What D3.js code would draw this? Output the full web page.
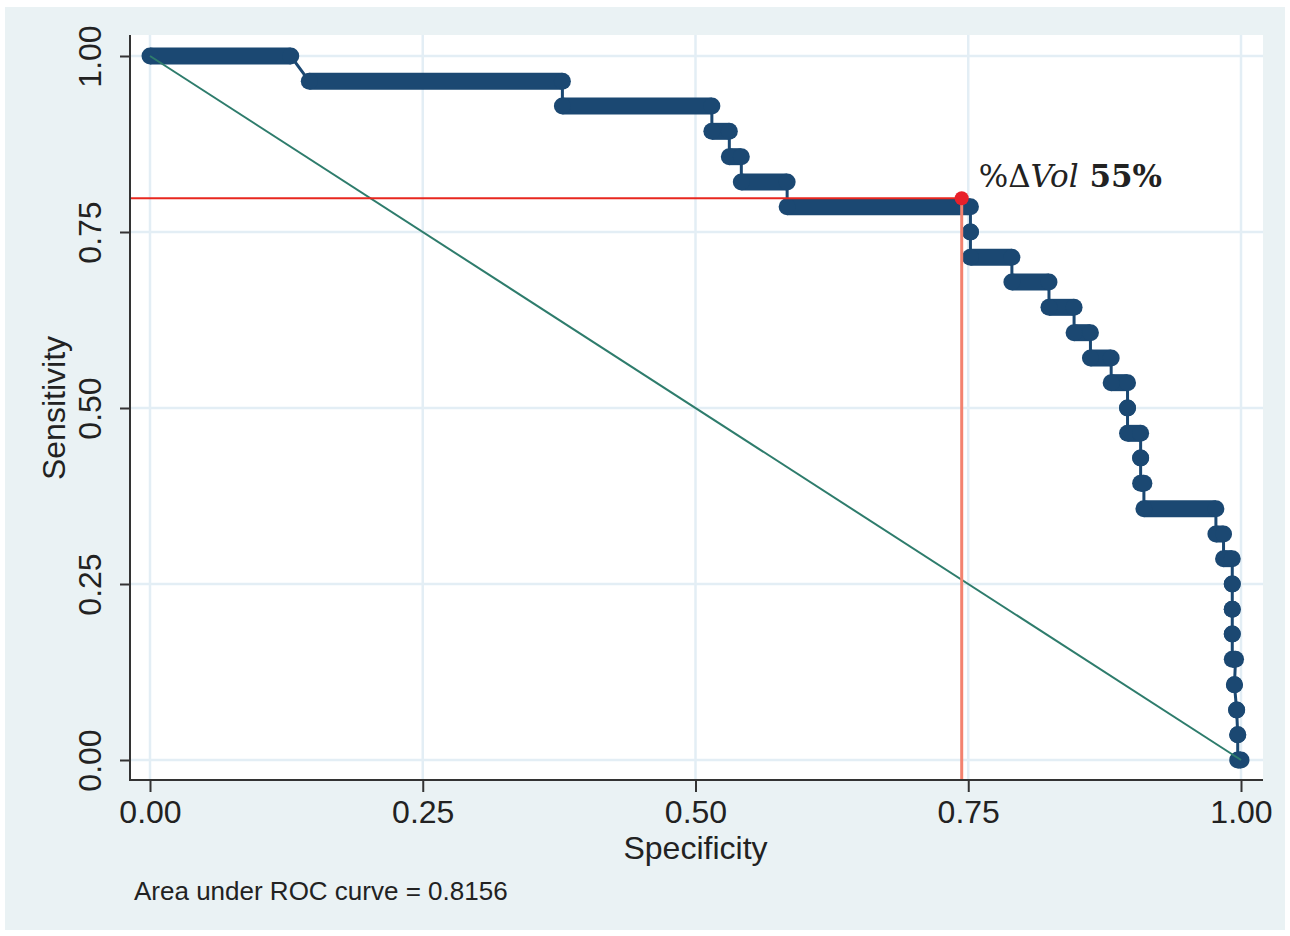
<!DOCTYPE html>
<html>
<head>
<meta charset="utf-8">
<script src="https://cdn.jsdelivr.net/npm/d3@7"></script>
<style>
  html, body { margin: 0; padding: 0; background: #ffffff; }
  svg { display: block; }
  .tick text { font-family: "Liberation Sans", Arial, sans-serif; fill: #222; }
</style>
</head>
<body>
<div id="roc-chart"></div>
<script>
// ROC data: one horizontal run per sensitivity level
var sensitivity = [1.000, 0.964, 0.929, 0.893, 0.857, 0.821, 0.786, 0.750, 0.714, 0.679,
  0.643, 0.607, 0.571, 0.536, 0.500, 0.464, 0.429, 0.393, 0.357, 0.321,
  0.286, 0.250, 0.214, 0.179, 0.143, 0.107, 0.071, 0.036, 0.000];
var specFrom = [0.000, 0.146, 0.378, 0.515, 0.531, 0.542, 0.584, 0.752, 0.752, 0.790,
  0.824, 0.847, 0.862, 0.881, 0.896, 0.896, 0.908, 0.908, 0.911, 0.977,
  0.984, 0.992, 0.992, 0.992, 0.992, 0.994, 0.996, 0.997, 0.997];
var specTo = [0.129, 0.378, 0.515, 0.531, 0.542, 0.584, 0.752, 0.752, 0.790, 0.824,
  0.847, 0.862, 0.881, 0.896, 0.896, 0.908, 0.908, 0.911, 0.977, 0.984,
  0.992, 0.992, 0.992, 0.992, 0.995, 0.994, 0.996, 0.997, 1.000];

// reference diagonal and chosen cut-off
var diagonal = [[0, 1], [1, 0]];
var cutoff = { spec: 0.744, sens: 0.798, label: "55%" };

var tickValues = [0, 0.25, 0.5, 0.75, 1];
var aucText = "Area under ROC curve = 0.8156";

var render = function() {
  var width = 1290;
  var height = 936;

  var plot = { left: 130, top: 35, right: 1263, bottom: 780 };

  var containerElement = d3.select("#roc-chart");
  containerElement.html("");

  var svg = containerElement
    .append("svg")
    .attr("width", width)
    .attr("height", height);

  // outer panel
  svg.append("rect")
    .attr("x", 5).attr("y", 7)
    .attr("width", 1280).attr("height", 923)
    .attr("fill", "#eaf2f4");

  // plot region
  svg.append("rect")
    .attr("x", plot.left).attr("y", plot.top)
    .attr("width", plot.right - plot.left)
    .attr("height", plot.bottom - plot.top)
    .attr("fill", "#ffffff");

  var xScale = d3.scaleLinear().domain([0, 1]).range([150, 1241]);
  var yScale = d3.scaleLinear().domain([0, 1]).range([760, 56]);

  // grid
  var grid = svg.append("g").attr("class", "grid");
  grid.selectAll("line.gx")
    .data(tickValues)
    .enter()
    .append("line")
    .attr("x1", d => xScale(d)).attr("x2", d => xScale(d))
    .attr("y1", plot.top).attr("y2", plot.bottom)
    .attr("stroke", "#e3eef5")
    .attr("stroke-width", 2.5);
  grid.selectAll("line.gy")
    .data(tickValues)
    .enter()
    .append("line")
    .attr("x1", plot.left).attr("x2", plot.right)
    .attr("y1", d => yScale(d)).attr("y2", d => yScale(d))
    .attr("stroke", "#e3eef5")
    .attr("stroke-width", 2.5);

  // axes
  var xAxis = d3.axisBottom(xScale)
    .tickValues(tickValues)
    .tickSize(12)
    .tickPadding(8)
    .tickFormat(d3.format(".2f"));
  var gx = svg.append("g")
    .attr("transform", "translate(0," + plot.bottom + ")")
    .call(xAxis);
  gx.select(".domain").remove();
  gx.selectAll(".tick line").attr("stroke", "#333").attr("stroke-width", 2);
  gx.selectAll(".tick text")
    .attr("font-size", 32)
    .attr("y", 43)
    .attr("dy", null);

  var yAxis = d3.axisLeft(yScale)
    .tickValues(tickValues)
    .tickSize(10)
    .tickFormat(d3.format(".2f"));
  var gy = svg.append("g")
    .attr("transform", "translate(" + plot.left + ",0)")
    .call(yAxis);
  gy.select(".domain").remove();
  gy.selectAll(".tick line").attr("stroke", "#333").attr("stroke-width", 2);
  gy.selectAll(".tick text")
    .attr("font-size", 32)
    .attr("text-anchor", "middle")
    .attr("x", null)
    .attr("dy", null)
    .attr("transform", "translate(-29,0) rotate(-90)");

  // axis lines
  svg.append("line")
    .attr("x1", plot.left).attr("x2", plot.left)
    .attr("y1", plot.top).attr("y2", plot.bottom + 1)
    .attr("stroke", "#333").attr("stroke-width", 2);
  svg.append("line")
    .attr("x1", plot.left - 1).attr("x2", plot.right)
    .attr("y1", plot.bottom).attr("y2", plot.bottom)
    .attr("stroke", "#333").attr("stroke-width", 2);

  // ROC curve
  var steps = sensitivity.map((s, i) => ({ sens: s, from: specFrom[i], to: specTo[i] }));
  var navy = "#1b4872";
  var r = 8.5;

  var pathPoints = [];
  steps.forEach(d => {
    pathPoints.push([d.from, d.sens]);
    pathPoints.push([d.to, d.sens]);
  });
  var line = d3.line().x(d => xScale(d[0])).y(d => yScale(d[1]));

  var curve = svg.append("g").attr("class", "roc");
  curve.append("path")
    .attr("d", line(pathPoints))
    .attr("fill", "none")
    .attr("stroke", navy)
    .attr("stroke-width", 3);

  curve.selectAll("line.run")
    .data(steps)
    .enter()
    .append("line")
    .attr("x1", d => xScale(d.from)).attr("x2", d => xScale(d.to))
    .attr("y1", d => yScale(d.sens)).attr("y2", d => yScale(d.sens))
    .attr("stroke", navy)
    .attr("stroke-width", 2 * r);

  curve.selectAll("circle")
    .data(pathPoints)
    .enter()
    .append("circle")
    .attr("cx", d => xScale(d[0]))
    .attr("cy", d => yScale(d[1]))
    .attr("r", r)
    .attr("fill", navy);

  // reference line
  svg.append("path")
    .attr("d", line(diagonal))
    .attr("fill", "none")
    .attr("stroke", "#2e7c6c")
    .attr("stroke-width", 2);

  // cut-off guides
  svg.append("line")
    .attr("x1", plot.left + 1).attr("x2", xScale(cutoff.spec))
    .attr("y1", yScale(cutoff.sens)).attr("y2", yScale(cutoff.sens))
    .attr("stroke", "#e8271f")
    .attr("stroke-width", 2);
  svg.append("line")
    .attr("x1", xScale(cutoff.spec)).attr("x2", xScale(cutoff.spec))
    .attr("y1", yScale(cutoff.sens)).attr("y2", plot.bottom - 1)
    .attr("stroke", "#f3826f")
    .attr("stroke-width", 3);
  svg.append("circle")
    .attr("cx", xScale(cutoff.spec))
    .attr("cy", yScale(cutoff.sens))
    .attr("r", 7)
    .attr("fill", "#e8202a");

  // cut-off label
  var label = svg.append("text")
    .attr("x", xScale(cutoff.spec) + 17)
    .attr("y", yScale(cutoff.sens) - 11)
    .attr("font-family", "'DejaVu Serif', 'Liberation Serif', serif")
    .attr("font-size", 31)
    .attr("fill", "#222");
  label.append("tspan").text("%Δ");
  label.append("tspan").attr("font-style", "italic").text("Vol");
  label.append("tspan").attr("font-weight", "bold").text(" " + cutoff.label);

  // axis titles
  svg.append("text")
    .attr("x", (xScale(0) + xScale(1)) / 2)
    .attr("y", 859)
    .attr("text-anchor", "middle")
    .attr("font-family", "'Liberation Sans', Arial, sans-serif")
    .attr("font-size", 32)
    .attr("fill", "#222")
    .text("Specificity");

  svg.append("text")
    .attr("transform", "translate(65," + yScale(0.5) + ") rotate(-90)")
    .attr("text-anchor", "middle")
    .attr("font-family", "'Liberation Sans', Arial, sans-serif")
    .attr("font-size", 32)
    .attr("fill", "#222")
    .text("Sensitivity");

  // note
  svg.append("text")
    .attr("x", 134)
    .attr("y", 900)
    .attr("font-family", "'Liberation Sans', Arial, sans-serif")
    .attr("font-size", 26)
    .attr("fill", "#222")
    .text(aucText);
};

render();
</script>
</body>
</html>
